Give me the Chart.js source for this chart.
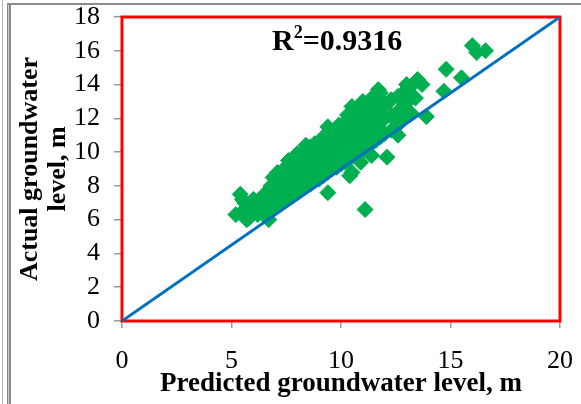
<!DOCTYPE html>
<html>
<head>
<meta charset="utf-8">
<script src="https://cdn.jsdelivr.net/npm/chart.js@4.4.0/dist/chart.umd.min.js"></script>
<style>
  body { margin: 0; background: #fff; }
  #wrap { position: relative; width: 581px; height: 404px; }
  .frame { position: absolute; background: #8c8c8c; }
</style>
</head>
<body>
<div id="wrap">
  <canvas id="myChart" width="581" height="404"></canvas>
  <div class="frame" style="left:2px;top:0;width:1px;height:404px;background:#b0b0b0"></div>
  <div class="frame" style="left:7px;top:3px;width:4px;height:401px;background:linear-gradient(to right,#888 0 1.5px,#d0d0d0 1.5px 2.5px,#888 2.5px)"></div>
  <div class="frame" style="left:7px;top:3px;width:574px;height:2px"></div>
</div>
<script>
// predicted (x) and actual (y) groundwater levels, m
const predicted = [
  5.2, 5.4, 5.5, 5.7, 5.8, 6.0, 6.2, 6.6, 6.7, 6.9,
  6.9, 7.1, 7.6, 8.4, 8.8, 9.3, 9.4, 9.5, 10.5, 11.0,
  11.7, 13.0, 13.5, 13.7, 14.7, 14.8, 15.5, 16.0, 16.2, 16.6,
  13.9, 12.6, 12.1, 11.4, 10.9, 10.4, 10.5, 9.4, 11.1, 13.4,
  12.9, 8.0, 8.6, 9.9, 10.3, 11.9, 12.4,
  5.6, 5.6,
  5.9, 5.9,
  6.2, 6.2,
  6.5, 6.5, 6.5,
  6.8, 6.8, 6.8,
  7.0, 7.0, 7.0,
  7.2, 7.2, 7.2,
  7.4, 7.4, 7.4, 7.4,
  7.6, 7.6, 7.6,
  7.8, 7.8, 7.8, 7.8,
  8.0, 8.0, 8.0, 8.0,
  8.2, 8.2, 8.2, 8.2,
  8.4, 8.4, 8.4,
  8.6, 8.6, 8.6, 8.6,
  8.8, 8.8, 8.8,
  9.0, 9.0, 9.0, 9.0,
  9.2, 9.2, 9.2, 9.2,
  9.4, 9.4, 9.4,
  9.6, 9.6, 9.6, 9.6,
  9.8, 9.8, 9.8, 9.8,
  10.0, 10.0, 10.0, 10.0,
  10.2, 10.2, 10.2, 10.2,
  10.4, 10.4, 10.4, 10.4,
  10.6, 10.6, 10.6, 10.6,
  10.8, 10.8, 10.8, 10.8,
  11.0, 11.0, 11.0, 11.0,
  11.2, 11.2, 11.2, 11.2,
  11.4, 11.4, 11.4, 11.4,
  11.6, 11.6, 11.6, 11.6,
  11.8, 11.8, 11.8, 11.8,
  12.0, 12.0, 12.0,
  12.3, 12.3, 12.3,
  12.6, 12.6, 12.6,
  12.9, 12.9, 12.9,
  13.2, 13.2, 13.2,
];
const actual = [
  6.3, 7.5, 7.2, 6.0, 6.1, 7.2, 7.0, 6.3, 6.0, 7.5,
  8.5, 8.8, 9.5, 10.4, 10.5, 11.0, 11.5, 11.2, 12.7, 13.0,
  13.7, 14.0, 14.3, 14.0, 13.6, 14.9, 14.4, 16.3, 15.9, 16.0,
  12.1, 11.0, 9.7, 9.8, 9.4, 8.6, 8.8, 7.6, 6.6, 13.2,
  13.4, 9.9, 10.3, 11.6, 12.2, 13.0, 12.0,
  6.6, 7.0,
  6.4, 6.9,
  6.3, 6.8,
  6.6, 7.0, 7.5,
  7.0, 7.6, 8.0,
  6.8, 7.4, 8.2,
  7.0, 7.6, 8.4,
  7.2, 7.9, 8.5, 9.0,
  7.3, 8.0, 8.7,
  7.5, 8.2, 8.8, 9.2,
  7.6, 8.3, 9.0, 9.6,
  7.8, 8.5, 9.2, 9.9,
  8.0, 8.7, 9.5,
  8.1, 8.9, 9.6, 10.0,
  8.3, 9.1, 9.8,
  8.4, 9.2, 10.0, 10.6,
  8.6, 9.4, 10.2, 10.9,
  8.8, 9.6, 10.3,
  9.0, 9.8, 10.5, 11.0,
  9.1, 10.0, 10.7, 11.3,
  9.3, 10.1, 10.9, 11.5,
  9.4, 10.3, 11.0, 11.8,
  9.6, 10.5, 11.3, 12.0,
  9.8, 10.6, 11.5, 12.2,
  10.0, 10.8, 11.6, 12.4,
  10.1, 11.0, 11.8, 12.6,
  10.3, 11.2, 12.0, 12.9,
  10.5, 11.4, 12.3, 13.2,
  10.7, 11.6, 12.5, 13.3,
  10.9, 11.8, 12.6, 13.5,
  11.1, 12.0, 12.8,
  11.3, 12.2, 13.1,
  11.6, 12.4, 13.3,
  12.0, 12.8, 13.6,
  12.3, 13.2, 13.9,
];
// reference line
const lineX = [0, 20];
const lineY = [0, 18];
const xTicks = [0, 5, 10, 15, 20];
const yTicks = [0, 2, 4, 6, 8, 10, 12, 14, 16, 18];
const rSquared = "0.9316";

const serif = "'Liberation Serif', 'Times New Roman', serif";
const ctx = document.getElementById("myChart");

const boxAndLabel = {
  id: "boxAndLabel",
  beforeDatasetsDraw(chart) {
    const c = chart.ctx;
    const a = chart.chartArea;
    c.save();
    c.strokeStyle = "#ff0000";
    c.lineWidth = 3;
    c.strokeRect(a.left, a.top, a.right - a.left, a.bottom - a.top);
    c.restore();
  },
  afterDraw(chart) {
    const c = chart.ctx;
    const a = chart.chartArea;
    c.save();
    c.fillStyle = "#000";
    c.textBaseline = "alphabetic";
    let x = a.left + 150;
    const y = a.top + 33;
    c.font = `bold 30px ${serif}`;
    c.fillText("R", x, y);
    x += c.measureText("R").width;
    c.font = `bold 18px ${serif}`;
    c.fillText("2", x, y - 12);
    x += c.measureText("2").width;
    c.font = `bold 30px ${serif}`;
    c.fillText("=" + rSquared, x, y);
    c.restore();
  },
};

new Chart(ctx, {
  type: "scatter",
  data: {
    datasets: [
      {
        type: "line",
        data: lineX.map((v, i) => ({ x: v, y: lineY[i] })),
        borderColor: "#0070c0",
        borderWidth: 3,
        pointRadius: 0,
        fill: false,
      },
      {
        data: predicted.map((v, i) => ({ x: v, y: actual[i] })),
        pointStyle: "rectRot",
        pointRadius: 8,
        backgroundColor: "#00b050",
        borderColor: "#00b050",
        borderWidth: 1,
      },
    ],
  },
  plugins: [boxAndLabel],
  options: {
    responsive: false,
    animation: false,
    layout: { padding: { top: 17, right: 21, left: 0, bottom: 0 } },
    plugins: { legend: { display: false }, tooltip: { enabled: false } },
    scales: {
      x: {
        min: 0,
        max: 20,
        afterBuildTicks: (s) => { s.ticks = xTicks.map((v) => ({ value: v })); },
        afterFit: (s) => { s.height = 83; s.paddingLeft = 0; s.paddingRight = 0; },
        grid: { drawOnChartArea: false, tickLength: 7, color: "#999", lineWidth: 1.5 },
        border: { display: false },
        ticks: { color: "#000", padding: 18, autoSkip: false, maxRotation: 0, font: { family: serif, size: 26 } },
        title: {
          display: true,
          text: "Predicted groundwater level, m",
          color: "#000",
          padding: { top: 0, bottom: 5 },
          font: { family: serif, size: 27, weight: "bold", lineHeight: 1.1 },
        },
      },
      y: {
        min: 0,
        max: 18,
        afterBuildTicks: (s) => { s.ticks = yTicks.map((v) => ({ value: v })); },
        afterFit: (s) => { s.width = 122; s.paddingTop = 0; s.paddingBottom = 0; },
        grid: { drawOnChartArea: false, tickLength: 8, color: "#999", lineWidth: 1.5 },
        border: { display: false },
        ticks: { color: "#000", padding: 14, autoSkip: false, font: { family: serif, size: 26 } },
        title: {
          display: true,
          text: ["Actual groundwater", "level, m"],
          color: "#000",
          padding: { top: 17, bottom: 0 },
          font: { family: serif, size: 26, weight: "bold", lineHeight: 1.05 },
        },
      },
    },
  },
});
</script>
</body>
</html>
